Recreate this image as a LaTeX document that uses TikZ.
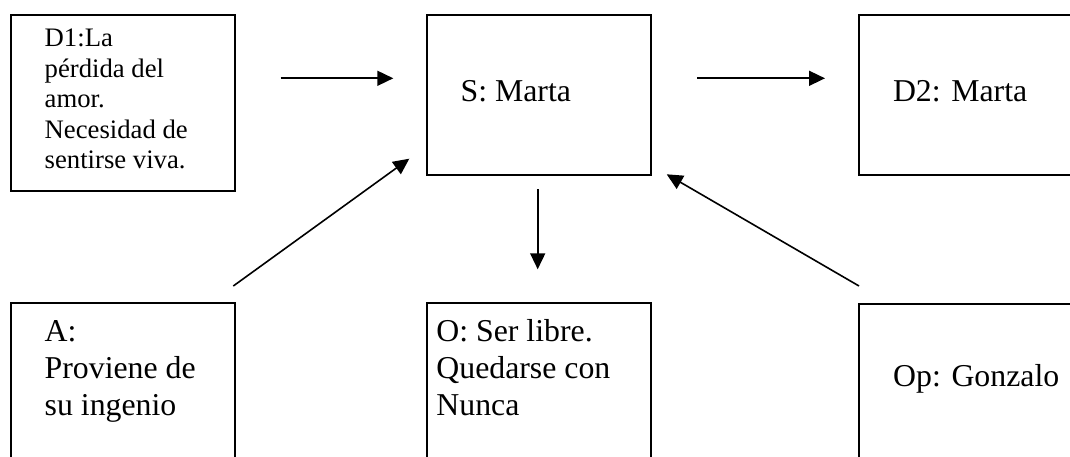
\documentclass[tikz,border=0pt]{standalone}
\usepackage{fontspec}
\setmainfont{Liberation Serif}
\usetikzlibrary{arrows.meta}
\begin{document}
\begin{tikzpicture}[x=1pt,y=-1pt,
  box/.style={draw, line width=1.6pt, inner sep=0pt, minimum width=224pt, anchor=north west},
  bigtext/.style={font=\fontsize{31.8pt}{36.6pt}\selectfont, align=left, anchor=north west, inner sep=0pt},
  smalltext/.style={font=\fontsize{26.7pt}{30.5pt}\selectfont, align=left, anchor=north west, inner sep=0pt},
  arr/.style={line width=1.6pt, -{Triangle[length=16pt,width=15pt]}}]
\useasboundingbox (0,0) rectangle (1070,457);
\clip (0,0) rectangle (1070,457);
% boxes
\node[box, minimum height=176pt] (D1) at (10,14) {};
\node[box, minimum height=160pt] (S) at (426,14) {};
\node[box, minimum height=160pt] (D2) at (858,14) {};
\node[box, minimum height=180pt] (A) at (10,302) {};
\node[box, minimum height=180pt] (O) at (426,302) {};
\node[box, minimum height=180pt] (Op) at (858,303) {};
% texts
\node[smalltext] (tD1) at (44.5,25.35) {\strut D1:La\\pérdida del\\amor.\\Necesidad de\\sentirse viva.};
\node[bigtext] (tS) at (460.4,75.4) {\strut S: Marta};
\node[bigtext] (tD2) at (892.8,75.4) {\strut D2: Marta};
\node[bigtext] (tA) at (44.5,316.1) {\strut A:\\Proviene de\\su ingenio};
\node[bigtext] (tO) at (436.2,316.1) {\strut O: Ser libre.\\Quedarse con\\Nunca};
\node[bigtext] (tOp) at (893,361.1) {\strut Op: Gonzalo};
% arrow ends
\coordinate (d1s-a) at (280.7,78.3);
\coordinate (d1s-b) at (393.3,78.3);
\coordinate (sd2-a) at (697,78.3);
\coordinate (sd2-b) at (825,78.3);
\coordinate (so-a) at (537.7,189.3);
\coordinate (so-b) at (537.7,269.3);
\coordinate (as-a) at (233.3,286);
\coordinate (as-b) at (409.3,158.7);
\coordinate (ops-a) at (859,286);
\coordinate (ops-b) at (666.7,174.3);
% arrows
\draw[arr] (d1s-a) -- (d1s-b);
\draw[arr] (sd2-a) -- (sd2-b);
\draw[arr] (so-a) -- (so-b);
\draw[arr] (as-a) -- (as-b);
\draw[arr] (ops-a) -- (ops-b);
\end{tikzpicture}
\end{document}
